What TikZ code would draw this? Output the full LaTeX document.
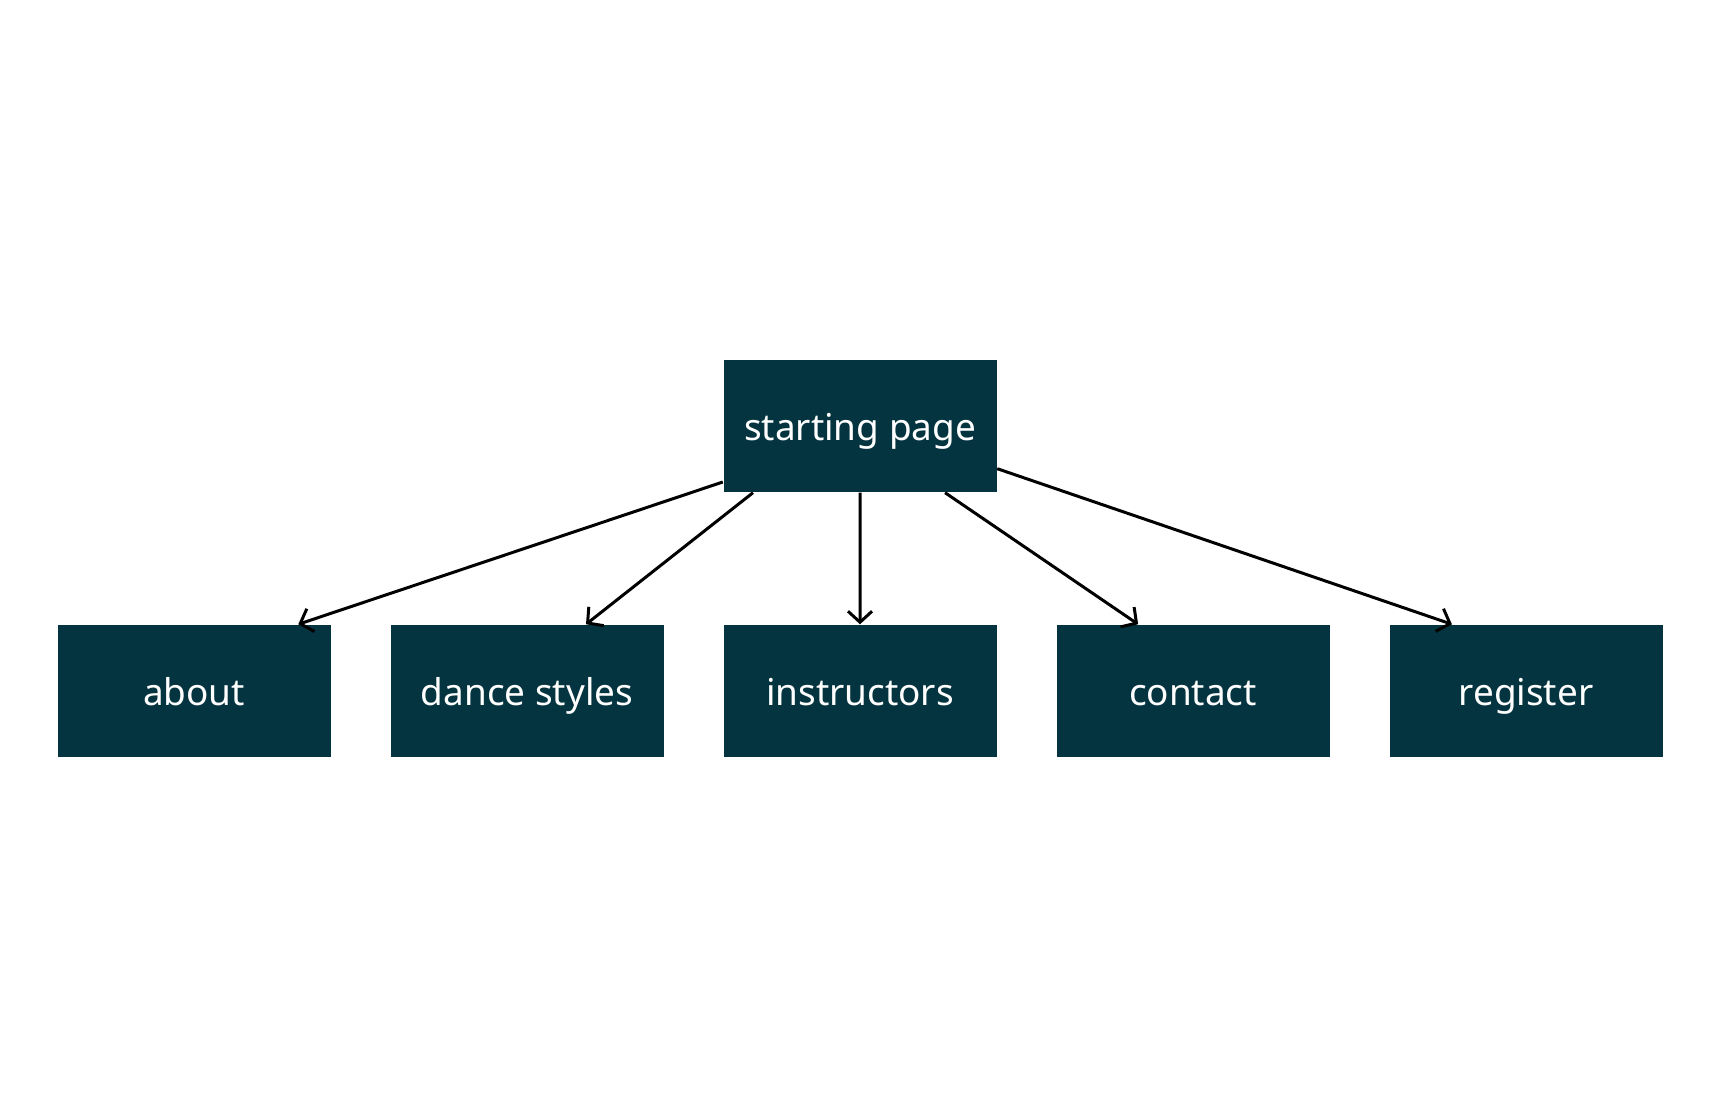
\documentclass[tikz,border=0pt]{standalone}
\usepackage{fontspec}
\setmainfont{Noto Sans}
\usetikzlibrary{trees,calc,arrows.meta}
\definecolor{pageteal}{HTML}{04343F}

\begin{document}
\begin{tikzpicture}[grow=down,
                    page/.style={fill=pageteal,
                                 text=white,
                                 minimum width=2.73cm,
                                 minimum height=1.32cm,
                                 inner sep=0pt,
                                 text height=9pt,
                                 text depth=1pt,
                                 font=\fontsize{10.5}{13}\selectfont},
                    link/.style={-{Straight Barb[length=1.1mm,width=2.4mm]},
                                 line width=0.85pt},
                    edge from parent/.style={draw=none},
                    level 1/.append style={level distance=2.65cm,
                                           sibling distance=3.33cm},]
    \useasboundingbox (0,0) rectangle (17.18,11.12);
    \node[page] (start) at (8.60,6.86) {starting page}
	child { node [page] (about) {about}}
	child { node [page] (styles) {dance styles}}
	child { node [page] (instructors) {instructors}}
	child { node [page] (contact) {contact}}
	child { node [page] (register) {register}}
    	;
    \draw[link] ($(start.south west)!0.08!(start.north west)$) -- ($(about.north west)!0.88!(about.north east)$);
    \draw[link] ($(start.south west)!0.11!(start.south east)$) -- ($(styles.north west)!0.715!(styles.north east)$);
    \draw[link] (start.south) -- (instructors.north);
    \draw[link] ($(start.south west)!0.81!(start.south east)$) -- ($(contact.north west)!0.30!(contact.north east)$);
    \draw[link] ($(start.south east)!0.18!(start.north east)$) -- ($(register.north west)!0.23!(register.north east)$);
\end{tikzpicture}
\end{document}
